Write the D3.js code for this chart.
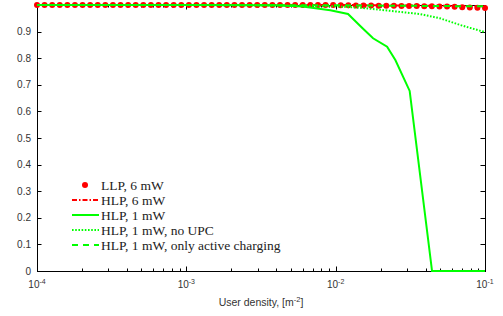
<!DOCTYPE html>
<html>
<head>
<meta charset="utf-8">
<script src="https://cdn.jsdelivr.net/npm/d3@7"></script>
<style>
  body { margin: 0; background: #fff; }
  svg { display: block; }
</style>
</head>
<body>
<div id="chart"></div>
<script>
// LLP, 6 mW is sampled on 60 log-spaced densities between 1e-4 and 1e-1
const llpExp = d3.range(60).map(i => -4 + i * 3 / 59);
const llp6 = [
  1, 1, 1, 1, 1, 1, 1, 1, 1, 1, 1, 1, 1, 1, 1, 1, 1, 1, 1, 1,
  1, 1, 1, 1, 1, 1, 1, 1, 1, 1, 1, 1, 1, 1, 1, 1, 1, 1, 1, 1,
  0.999, 0.999, 0.998, 0.998, 0.998, 0.997, 0.997, 0.997, 0.996, 0.996,
  0.996, 0.995, 0.995, 0.994, 0.994, 0.993, 0.992, 0.991, 0.990, 0.989
];

const hlp6X = [1e-4, 1e-3, 1e-2, 0.02, 0.05, 0.1];
const hlp6 = [1, 1, 1, 0.999, 0.997, 0.995];

const hlp1X = [1e-4, 1e-3, 0.004, 0.006, 0.0092, 0.0121, 0.0152, 0.0178, 0.0221, 0.0251, 0.0313, 0.0442, 0.1];
const hlp1 = [1, 1, 0.999, 0.994, 0.98, 0.966, 0.912, 0.875, 0.843, 0.793, 0.677, 0, 0];

const noUpcX = [1e-4, 1e-3, 0.00316, 0.01, 0.0158, 0.0251, 0.0367, 0.05, 0.068, 0.0794, 0.1];
const noUpc = [1, 1, 0.999, 0.995, 0.988, 0.976, 0.966, 0.95, 0.925, 0.914, 0.898];

const activeX = [1e-4, 1e-3, 1e-2, 0.03, 0.1];
const active = [1, 1, 0.999, 0.997, 0.995];

const yTicks = [0, 0.1, 0.2, 0.3, 0.4, 0.5, 0.6, 0.7, 0.8, 0.9];
const xDecades = [-4, -3, -2, -1];
const legendLabels = [
  'LLP, 6 mW',
  'HLP, 6 mW',
  'HLP, 1 mW',
  'HLP, 1 mW, no UPC',
  'HLP, 1 mW, only active charging'
];

const width = 503;
const height = 316;
const margin = { top: 5, right: 18, bottom: 45, left: 37 };
const innerW = width - margin.left - margin.right;
const innerH = height - margin.top - margin.bottom;

const red = '#ff0000';
const green = '#00ff00';
const tickFont = '"Liberation Sans", Arial, sans-serif';
const serif = '"Liberation Serif", "DejaVu Serif", serif';

const svg = d3.select('#chart')
  .append('svg')
  .attr('width', width)
  .attr('height', height);

const g = svg.append('g')
  .attr('transform', `translate(${margin.left},${margin.top})`);

const x = d3.scaleLog().domain([1e-4, 1e-1]).range([0, innerW]);
const y = d3.scaleLinear().domain([0, 1]).range([innerH, 0]);

// minor ticks 2..9 in each decade
const minor = [];
xDecades.slice(0, -1).forEach(e => {
  for (let k = 2; k <= 9; k++) minor.push(k * Math.pow(10, e));
});
const major = xDecades.map(e => Math.pow(10, e));

// ticks point inward on all four sides
const tickG = g.append('g').attr('stroke', '#000').attr('stroke-width', 1);
major.forEach(v => {
  const px = Math.round(x(v)) + 0.5;
  tickG.append('line').attr('x1', px).attr('x2', px).attr('y1', innerH).attr('y2', innerH - 4.5);
  tickG.append('line').attr('x1', px).attr('x2', px).attr('y1', 0).attr('y2', 4.5);
});
minor.forEach(v => {
  const px = Math.round(x(v)) + 0.5;
  tickG.append('line').attr('x1', px).attr('x2', px).attr('y1', innerH).attr('y2', innerH - 2.5);
  tickG.append('line').attr('x1', px).attr('x2', px).attr('y1', 0).attr('y2', 2.5);
});
yTicks.forEach(v => {
  const py = Math.round(y(v)) + 0.5;
  tickG.append('line').attr('x1', 0).attr('x2', 4.5).attr('y1', py).attr('y2', py);
  tickG.append('line').attr('x1', innerW).attr('x2', innerW - 4.5).attr('y1', py).attr('y2', py);
});

g.append('rect')
  .attr('x', 0.5).attr('y', 0.5)
  .attr('width', innerW).attr('height', innerH)
  .attr('fill', 'none')
  .attr('stroke', '#000')
  .attr('stroke-width', 1);

// tick labels
g.selectAll('.ylab')
  .data(yTicks)
  .enter()
  .append('text')
  .attr('x', -6)
  .attr('y', d => y(d) + 3.5)
  .attr('text-anchor', 'end')
  .attr('font-family', tickFont)
  .attr('font-size', 10)
  .attr('fill', '#333')
  .text(d => d === 0 ? '0' : d.toFixed(1));

const xl = g.selectAll('.xlab')
  .data(xDecades)
  .enter()
  .append('text')
  .attr('x', d => x(Math.pow(10, d)))
  .attr('y', innerH + 17)
  .attr('text-anchor', 'middle')
  .attr('font-family', tickFont)
  .attr('font-size', 10)
  .attr('fill', '#333');
xl.append('tspan').text('10');
xl.append('tspan').attr('dy', -4).attr('font-size', 7).text(d => d);

const xt = g.append('text')
  .attr('x', innerW / 2)
  .attr('y', innerH + 35)
  .attr('text-anchor', 'middle')
  .attr('font-family', tickFont)
  .attr('font-size', 10.5)
  .attr('fill', '#333');
xt.append('tspan').text('User density, [m');
xt.append('tspan').attr('dy', -4).attr('font-size', 7.5).text('-2');
xt.append('tspan').attr('dy', 4).text(']');

// data
const line = d3.line().x(d => x(d[0])).y(d => y(d[1]));
const zip = (xs, ys) => xs.map((v, i) => [v, ys[i]]);

g.selectAll('.dot')
  .data(zip(llpExp.map(e => Math.pow(10, e)), llp6))
  .enter()
  .append('circle')
  .attr('cx', d => x(d[0]))
  .attr('cy', d => y(d[1]))
  .attr('r', 3)
  .attr('fill', red);

const series = [
  { data: zip(hlp6X, hlp6), color: red, dash: '5,2,1.5,2' },
  { data: zip(hlp1X, hlp1), color: green, dash: null },
  { data: zip(noUpcX, noUpc), color: green, dash: '1.6,1.6' },
  { data: zip(activeX, active), color: green, dash: '6,5' }
];

series.forEach(s => {
  g.append('path')
    .attr('d', line(s.data))
    .attr('fill', 'none')
    .attr('stroke', s.color)
    .attr('stroke-width', 2)
    .attr('stroke-dasharray', s.dash);
});

// legend
const leg = svg.append('g').attr('transform', 'translate(72,185)');
legendLabels.forEach((lab, i) => {
  const row = leg.append('g').attr('transform', `translate(0,${i * 15})`);
  if (i === 0) {
    row.append('circle').attr('cx', 13).attr('cy', 0).attr('r', 3).attr('fill', red);
  } else {
    const s = series[i - 1];
    row.append('line')
      .attr('x1', 0).attr('x2', 27)
      .attr('y1', 0).attr('y2', 0)
      .attr('stroke', s.color)
      .attr('stroke-width', 2)
      .attr('stroke-dasharray', s.dash);
  }
  row.append('text')
    .attr('x', 29)
    .attr('y', 4.5)
    .attr('font-family', serif)
    .attr('font-size', 13.5)
    .attr('fill', '#222')
    .text(lab);
});
</script>
</body>
</html>
